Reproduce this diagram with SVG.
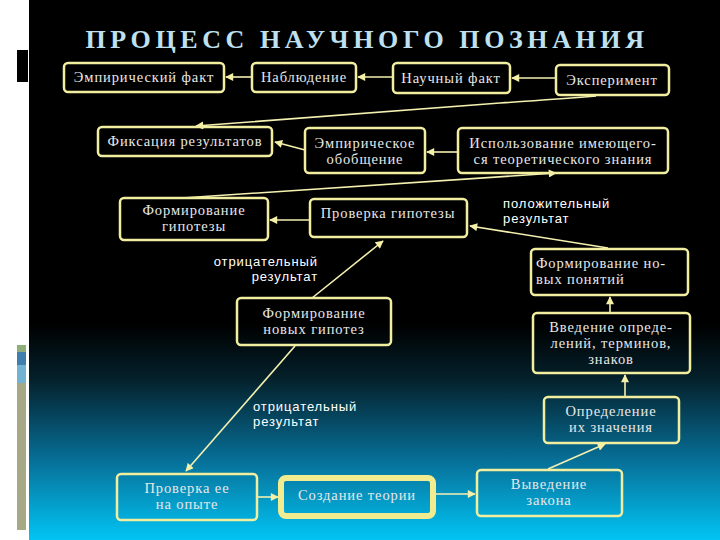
<svg xmlns="http://www.w3.org/2000/svg" width="720" height="540" viewBox="0 0 720 540">
<defs>
<linearGradient id="bg" x1="0" y1="0" x2="0" y2="540" gradientUnits="userSpaceOnUse">
<stop offset="0" stop-color="#000000"/>
<stop offset="0.6" stop-color="#000000"/>
<stop offset="0.7" stop-color="#04202a"/>
<stop offset="0.85" stop-color="#076e96"/>
<stop offset="1" stop-color="#02c4f4"/>
</linearGradient>
<marker id="ah" viewBox="0 0 10 10" refX="9" refY="5" markerWidth="9" markerHeight="8" markerUnits="userSpaceOnUse" orient="auto">
<path d="M0,0 L10,5 L0,10 Z" fill="#f4f0a8"/>
</marker>
<style>
.box{fill:none;stroke:#f2eea0;stroke-width:2.5}
.thick{fill:none;stroke:#f2ec90;stroke-width:6}
.t{font-family:"Liberation Serif","DejaVu Serif",serif;font-size:14.5px;fill:#e8e8e8;text-anchor:middle;letter-spacing:0.9px}
.ts{font-family:"Liberation Serif","DejaVu Serif",serif;font-size:14.5px;fill:#e8e8e8;text-anchor:start;letter-spacing:0.9px}
.lbl{font-family:"Liberation Sans","DejaVu Sans",sans-serif;font-size:13px;fill:#ffffff;letter-spacing:0.9px}
.lble{font-family:"Liberation Sans","DejaVu Sans",sans-serif;font-size:13px;fill:#ffffff;letter-spacing:0.9px;text-anchor:end}
.c{fill:none;stroke:#f4f0b0;stroke-width:1.6;marker-end:url(#ah)}
.title{font-family:"Liberation Serif","DejaVu Serif",serif;font-size:26px;font-weight:bold;fill:#bfe0f0;letter-spacing:4.6px;text-anchor:middle}
</style>
</defs>
<rect x="0" y="0" width="720" height="540" fill="#ffffff"/>
<rect x="29" y="0" width="691" height="540" fill="url(#bg)"/>
<g id="sidebar">
<rect x="17" y="50" width="11" height="32" fill="#000000"/>
<rect x="17" y="345" width="9" height="7" fill="#8fae7a"/>
<rect x="17" y="352" width="9" height="13" fill="#3f7fae"/>
<rect x="17" y="365" width="9" height="18" fill="#72b2d2"/>
<rect x="17" y="383" width="9" height="147" fill="#a6a886"/>
</g>
<text class="title" x="367" y="48">ПРОЦЕСС НАУЧНОГО ПОЗНАНИЯ</text>

<g id="connectors">
<line class="c" x1="252" y1="77" x2="226" y2="77"/>
<line class="c" x1="393" y1="77" x2="358" y2="77"/>
<line class="c" x1="556" y1="78" x2="512" y2="78"/>
<path class="c" d="M596,96 Q560,99 500,103 L196,126"/>
<line class="c" x1="305" y1="150" x2="275" y2="142"/>
<line class="c" x1="458" y1="152" x2="427" y2="152"/>
<line class="c" x1="182" y1="198" x2="556" y2="173"/>
<line class="c" x1="310" y1="220" x2="270" y2="220"/>
<line class="c" x1="608" y1="248" x2="470" y2="226"/>
<line class="c" x1="312" y1="298" x2="383" y2="241"/>
<line class="c" x1="610" y1="313" x2="610" y2="297"/>
<line class="c" x1="625" y1="397" x2="625" y2="375"/>
<line class="c" x1="548" y1="469" x2="605" y2="444"/>
<line class="c" x1="295" y1="346" x2="186" y2="471"/>
<line class="c" x1="258" y1="497" x2="278" y2="497"/>
<line class="c" x1="436" y1="494" x2="475" y2="494"/>
</g>

<g id="labels">
<text class="lbl" x="503" y="208">положительный</text>
<text class="lbl" x="503" y="223">результат</text>
<text class="lble" x="318" y="266">отрицательный</text>
<text class="lble" x="318" y="281">результат</text>
<text class="lbl" x="253" y="411">отрицательный</text>
<text class="lbl" x="253" y="426">результат</text>
</g>

<g id="n1"><rect class="box" x="64" y="63" width="160" height="29" rx="4"/><text class="t" x="144" y="82">Эмпирический факт</text></g>
<g id="n2"><rect class="box" x="252" y="63" width="104" height="29" rx="4"/><text class="t" x="304" y="82">Наблюдение</text></g>
<g id="n3"><rect class="box" x="393" y="63" width="117" height="30" rx="4"/><text class="t" x="451" y="83">Научный факт</text></g>
<g id="n4"><rect class="box" x="556" y="65" width="113" height="30" rx="4"/><text class="t" x="612" y="85">Эксперимент</text></g>

<g id="n5"><rect class="box" x="98" y="127" width="174" height="29" rx="4"/><text class="t" x="185" y="146">Фиксация результатов</text></g>
<g id="n6"><rect class="box" x="305" y="128" width="120" height="45" rx="4"/><text class="t" x="365" y="148">Эмпирическое</text><text class="t" x="365" y="164">обобщение</text></g>
<g id="n7"><rect class="box" x="458" y="128" width="210" height="45" rx="4"/><text class="t" x="563" y="148">Использование имеющего-</text><text class="t" x="563" y="164">ся  теоретического знания</text></g>

<g id="n8"><rect class="box" x="120" y="198" width="148" height="42" rx="4"/><text class="t" x="194" y="215">Формирование</text><text class="t" x="194" y="231">гипотезы</text></g>
<g id="n9"><rect class="box" x="310" y="199" width="157" height="38" rx="4"/><text class="t" x="388" y="218">Проверка гипотезы</text></g>
<g id="n10"><rect class="box" x="531" y="249" width="157" height="46" rx="4"/><text class="ts" x="536" y="268">Формирование но-</text><text class="ts" x="536" y="284">вых понятий</text></g>

<g id="n11"><rect class="box" x="237" y="298" width="154" height="47" rx="4"/><text class="t" x="314" y="318">Формирование</text><text class="t" x="314" y="334">новых гипотез</text></g>
<g id="n12"><rect class="box" x="533" y="313" width="157" height="60" rx="4"/><text class="t" x="611" y="332">Введение опреде-</text><text class="t" x="611" y="348">лений, терминов,</text><text class="t" x="611" y="364">знаков</text></g>

<g id="n13"><rect class="box" x="544" y="397" width="135" height="46" rx="4"/><text class="t" x="611" y="416">Определение</text><text class="t" x="611" y="432">их значения</text></g>

<g id="n14"><rect class="box" x="117" y="474" width="140" height="46" rx="4"/><text class="t" x="187" y="493">Проверка ее</text><text class="t" x="187" y="509">на опыте</text></g>
<g id="n15"><rect class="thick" x="281" y="478" width="152" height="38" rx="5"/><text class="t" x="357" y="500">Создание теории</text></g>
<g id="n16"><rect class="box" x="477" y="470" width="145" height="46" rx="4"/><text class="t" x="549" y="489">Выведение</text><text class="t" x="549" y="505">закона</text></g>
</svg>
